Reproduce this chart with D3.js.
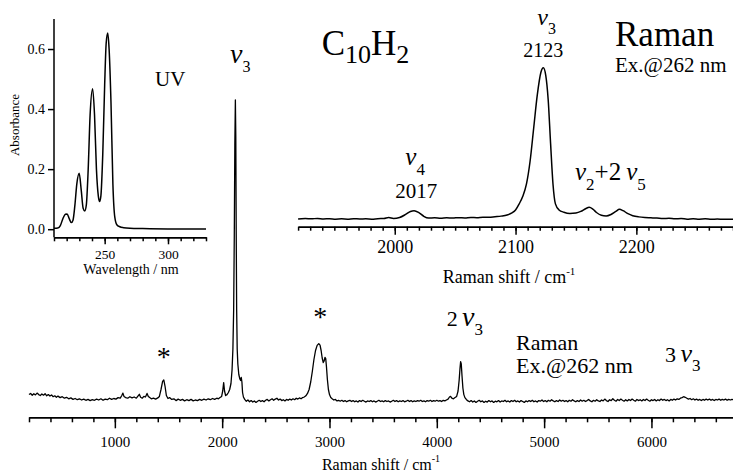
<!DOCTYPE html>
<html>
<head>
<meta charset="utf-8">
<script src="https://cdn.jsdelivr.net/npm/d3@7"></script>
<style>
  html, body { margin: 0; padding: 0; background: #fff; }
  svg { display: block; }
</style>
</head>
<body>
<svg id="chart" width="733" height="473"></svg>
<script>
const FONT = "'Liberation Serif', 'Times New Roman', serif";
const W = 733, H = 473;

// main Raman spectrum, excitation 262 nm : [shift cm-1, intensity (rel. to nu3)]
const mainSpectrum = [
  [200,0.018],[215,0.022],[230,0.016],[245,0.021],[260,0.017],[275,0.023],[290,0.018],[305,0.015],
  [320,0.020],[335,0.016],[350,0.021],[365,0.014],[380,0.018],[395,0.013],[410,0.017],[425,0.011],
  [440,0.014],[455,0.009],[470,0.013],[490,0.008],[510,0.011],[530,0.006],[550,0.009],[570,0.004],
  [590,0.007],[610,0.002],[630,0.005],[650,0.001],[670,0.004],[690,0.000],[710,0.003],[730,-0.001],
  [750,0.002],[770,-0.002],[790,0.001],[810,-0.001],[830,0.003],[850,0.000],[870,0.004],[890,-0.001],
  [910,0.003],[930,0.001],[950,0.006],[970,0.002],[990,0.005],[1010,0.003],[1030,0.008],[1050,0.006],
  [1065,0.015],[1075,0.023],[1085,0.012],[1100,0.008],[1120,0.006],[1140,0.011],[1160,0.007],[1180,0.010],
  [1200,0.006],[1215,0.013],[1228,0.019],[1240,0.009],[1255,0.006],[1270,0.012],[1285,0.010],[1300,0.022],
  [1312,0.012],[1325,0.008],[1340,0.004],[1360,0.006],[1380,0.003],[1400,0.007],[1415,0.012],[1430,0.035],
  [1445,0.062],[1456,0.067],[1468,0.045],[1480,0.015],[1495,0.005],[1510,0.008],[1530,0.002],[1550,0.004],
  [1570,-0.002],[1590,0.003],[1610,-0.001],[1630,0.002],[1650,-0.003],[1670,0.001],[1690,-0.002],[1710,0.002],
  [1730,-0.003],[1750,0.000],[1770,-0.002],[1790,0.002],[1810,-0.001],[1830,0.003],[1850,0.000],[1870,0.004],
  [1890,0.001],[1910,0.005],[1930,0.002],[1950,0.006],[1965,0.004],[1980,0.008],[1995,0.012],[2005,0.030],
  [2014,0.058],[2022,0.030],[2032,0.015],[2045,0.018],[2058,0.025],[2070,0.035],[2082,0.055],[2092,0.10],
  [2100,0.17],[2107,0.30],[2113,0.55],[2118,0.85],[2123,1.00],[2127,0.88],[2131,0.55],[2135,0.30],
  [2140,0.17],[2146,0.12],[2155,0.085],[2165,0.07],[2172,0.065],[2178,0.075],[2184,0.06],[2190,0.025],
  [2198,0.010],[2210,0.002],[2225,-0.004],[2240,0.000],[2255,-0.006],[2270,-0.002],[2285,-0.007],[2300,-0.003],
  [2315,-0.008],[2330,-0.004],[2345,-0.001],[2360,-0.005],[2375,-0.002],[2390,-0.006],[2405,-0.001],[2420,0.002],
  [2435,-0.003],[2450,0.001],[2465,0.004],[2480,-0.001],[2495,0.003],[2510,0.006],[2525,0.000],[2540,0.003],
  [2555,-0.002],[2570,0.001],[2585,-0.003],[2600,0.002],[2615,-0.001],[2630,0.003],[2645,0.000],[2660,0.004],
  [2675,0.001],[2690,0.006],[2705,0.003],[2720,0.007],[2735,0.004],[2750,0.008],[2765,0.010],[2780,0.014],
  [2795,0.022],[2810,0.035],[2825,0.060],[2840,0.095],[2855,0.135],[2870,0.165],[2885,0.182],[2900,0.188],
  [2912,0.183],[2922,0.165],[2932,0.140],[2942,0.125],[2950,0.130],[2958,0.142],[2965,0.138],[2972,0.110],
  [2980,0.070],[2990,0.035],[3000,0.018],[3012,0.008],[3025,0.004],[3040,0.000],[3055,0.002],[3070,-0.003],
  [3085,-0.001],[3100,-0.004],[3115,-0.001],[3130,-0.005],[3145,-0.002],[3160,-0.006],[3175,-0.003],[3190,-0.001],
  [3205,-0.005],[3220,-0.002],[3235,-0.006],[3250,-0.003],[3265,-0.007],[3280,-0.002],[3295,-0.005],[3310,-0.001],
  [3325,-0.004],[3340,-0.007],[3355,-0.003],[3370,-0.005],[3385,-0.002],[3400,-0.006],[3415,-0.003],[3430,-0.007],
  [3445,-0.004],[3460,-0.001],[3475,-0.005],[3490,-0.003],[3505,-0.006],[3520,-0.002],[3535,-0.005],[3550,-0.003],
  [3565,-0.007],[3580,-0.004],[3595,-0.001],[3610,-0.005],[3625,-0.002],[3640,-0.006],[3655,-0.003],[3670,-0.005],
  [3685,-0.002],[3700,-0.006],[3715,-0.004],[3730,-0.001],[3745,-0.005],[3760,-0.002],[3775,-0.006],[3790,-0.003],
  [3805,-0.005],[3820,-0.002],[3835,-0.004],[3850,-0.001],[3865,-0.005],[3880,-0.003],[3895,-0.006],[3910,-0.002],
  [3925,-0.004],[3940,-0.001],[3955,-0.005],[3970,-0.002],[3985,-0.004],[4000,-0.001],[4015,-0.004],[4030,-0.002],
  [4045,-0.005],[4060,-0.001],[4075,-0.003],[4090,0.000],[4105,0.003],[4118,0.010],[4128,0.012],[4140,0.006],
  [4155,0.004],[4170,0.008],[4185,0.012],[4198,0.030],[4208,0.065],[4216,0.105],[4222,0.128],[4228,0.120],
  [4235,0.080],[4243,0.040],[4252,0.018],[4262,0.008],[4275,0.002],[4290,-0.003],[4305,-0.006],[4320,-0.002],
  [4335,-0.007],[4350,-0.003],[4365,-0.008],[4380,-0.004],[4395,-0.001],[4410,-0.006],[4425,-0.003],[4440,-0.008],
  [4455,-0.004],[4470,-0.007],[4485,-0.002],[4500,-0.006],[4515,-0.003],[4530,-0.008],[4545,-0.004],[4560,-0.006],
  [4575,-0.002],[4590,-0.007],[4605,-0.003],[4620,-0.005],[4635,-0.001],[4650,-0.006],[4665,-0.003],[4680,-0.007],
  [4695,-0.002],[4710,-0.005],[4725,-0.001],[4740,-0.006],[4755,-0.003],[4770,-0.007],[4785,-0.002],[4800,-0.005],
  [4815,-0.008],[4830,-0.003],[4845,-0.006],[4860,-0.002],[4875,-0.005],[4890,-0.001],[4905,-0.006],[4920,-0.003],
  [4935,-0.007],[4950,-0.002],[4965,-0.004],[4980,0.000],[4995,-0.005],[5010,-0.002],[5025,-0.006],[5040,-0.001],
  [5055,-0.004],[5070,0.001],[5085,-0.003],[5100,-0.006],[5115,-0.002],[5130,-0.005],[5145,0.000],[5160,-0.004],
  [5175,-0.001],[5190,-0.005],[5205,-0.002],[5220,-0.006],[5235,-0.001],[5250,-0.004],[5265,0.001],[5280,-0.003],
  [5295,-0.006],[5310,-0.002],[5325,-0.005],[5340,0.000],[5355,-0.004],[5370,-0.001],[5385,-0.005],[5400,-0.002],
  [5415,0.002],[5430,-0.003],[5445,-0.006],[5460,-0.001],[5475,-0.004],[5490,0.001],[5505,-0.003],[5520,-0.005],
  [5535,0.000],[5550,-0.003],[5565,0.003],[5580,-0.002],[5595,-0.005],[5610,0.001],[5625,-0.002],[5640,0.004],
  [5655,-0.001],[5670,-0.004],[5685,0.002],[5700,-0.002],[5715,0.003],[5730,-0.001],[5745,-0.004],[5760,0.001],
  [5775,-0.003],[5790,0.002],[5805,-0.002],[5820,0.003],[5835,-0.001],[5850,-0.004],[5865,0.002],[5880,-0.002],
  [5895,0.001],[5910,-0.003],[5925,0.002],[5940,-0.002],[5955,0.003],[5970,-0.001],[5985,-0.004],[6000,0.001],
  [6015,-0.002],[6030,0.002],[6045,-0.003],[6060,0.001],[6075,-0.002],[6090,0.003],[6105,-0.001],[6120,0.002],
  [6135,-0.002],[6150,0.001],[6165,-0.003],[6180,0.002],[6195,-0.001],[6210,0.003],[6225,0.000],[6240,0.004],
  [6255,0.002],[6270,0.006],[6285,0.008],[6300,0.011],[6315,0.009],[6330,0.006],[6345,0.003],[6360,0.005],
  [6375,0.001],[6390,0.004],[6405,0.000],[6420,0.003],[6435,-0.001],[6450,0.002],[6465,-0.002],[6480,0.002],
  [6495,-0.001],[6510,0.003],[6525,0.000],[6540,0.003],[6555,-0.001],[6570,0.002],[6585,-0.002],[6600,0.002],
  [6615,0.000],[6630,0.003],[6645,-0.001],[6660,0.002],[6675,0.000],[6690,0.003],[6705,-0.001],[6720,0.002],
  [6735,0.000],[6750,0.002],[6760,0.001]
];

// zoomed Raman region around nu3 : [shift cm-1, intensity]
const insetSpectrum = [
  [1920,0.000],[1926,0.003],[1931,0.001],[1936,0.004],[1941,0.000],[1946,0.002],[1951,-0.001],[1956,0.001],
  [1961,-0.001],[1966,0.002],[1971,0.000],[1976,0.001],[1981,-0.001],[1986,0.002],[1991,0.003],[1995,0.010],
  [1999,0.004],[2004,0.010],[2009,0.030],[2013,0.050],[2016,0.055],[2020,0.042],[2024,0.018],[2028,0.006],
  [2033,0.008],[2038,0.005],[2043,0.008],[2048,0.006],[2053,0.009],[2058,0.007],[2063,0.010],[2068,0.009],
  [2073,0.012],[2078,0.011],[2083,0.015],[2088,0.019],[2093,0.026],[2097,0.040],[2100,0.060],[2103,0.100],
  [2106,0.150],[2109,0.230],[2112,0.380],[2115,0.600],[2118,0.820],[2121,0.970],[2123,1.000],[2125,0.950],
  [2127,0.790],[2129,0.500],[2131,0.230],[2133,0.100],[2136,0.060],[2140,0.045],[2145,0.037],[2150,0.040],
  [2154,0.050],[2158,0.068],[2161,0.077],[2164,0.065],[2167,0.043],[2171,0.025],[2175,0.020],[2179,0.030],
  [2183,0.050],[2186,0.064],[2189,0.055],[2193,0.035],[2197,0.022],[2202,0.014],[2207,0.010],[2212,0.008],
  [2217,0.006],[2222,0.003],[2227,0.005],[2232,0.001],[2237,0.003],[2242,-0.001],[2247,0.002],[2252,-0.001],
  [2257,0.001],[2262,-0.002],[2267,0.000],[2272,-0.002],[2277,-0.001],[2280,-0.002]
];

// UV absorption : [wavelength nm, absorbance]
const uvSpectrum = [
  [210,0.003],[213,0.004],[215,0.012],[217,0.035],[219,0.050],[220.3,0.051],[222,0.035],[223.7,0.022],
  [225,0.030],[226.5,0.080],[228,0.150],[229.9,0.186],[231.5,0.130],[233,0.070],[234.3,0.061],[235.5,0.080],
  [237,0.200],[238.5,0.380],[240.5,0.468],[242,0.380],[243.5,0.200],[245,0.110],[246,0.092],[247,0.110],
  [248.5,0.250],[250,0.480],[251.2,0.620],[252.4,0.653],[253.5,0.600],[255,0.420],[256.5,0.150],[258,0.040],
  [259.6,0.015],[262,0.008],[265,0.005],[270,0.003],[280,0.002],[300,0.001],[330,0.001]
];

const mainTicks  = [1000, 2000, 3000, 4000, 5000, 6000];
const insetTicks = [2000, 2100, 2200];
const uvXTicks   = [250, 300];
const uvYTicks   = [0.0, 0.2, 0.4, 0.6];

const svg = d3.select("#chart");
svg.append("rect").attr("width", W).attr("height", H).attr("fill", "#fff");

// scales
const xMain  = d3.scaleLinear().domain([200, 6760]).range([29, 733]);
const yMain  = d3.scaleLinear().domain([0, 1]).range([400, 100]);
const xInset = d3.scaleLinear().domain([1920, 2280]).range([298.1, 733]);
const yInset = d3.scaleLinear().domain([0, 1]).range([219, 67.7]);
const xUV    = d3.scaleLinear().domain([210, 330]).range([54, 206]);
const yUV    = d3.scaleLinear().domain([-0.027, 0.7]).range([237.3, 19]);

function styleAxis(g, size) {
  g.attr("font-family", FONT).attr("font-size", size);
  g.selectAll("path, line").attr("stroke", "#000").attr("stroke-width", 1.5);
  g.selectAll("text").attr("fill", "#000");
}

// bottom axis with labelled majors and unlabelled minors
function drawXAxis(scale, y, majors, minors, bigTick, smallTick, pad, size) {
  svg.append("g")
    .attr("transform", "translate(0," + y + ")")
    .call(d3.axisBottom(scale).tickValues(minors).tickSize(smallTick).tickSizeOuter(0).tickFormat(""))
    .call(g => styleAxis(g, size));
  svg.append("g")
    .attr("transform", "translate(0," + y + ")")
    .call(d3.axisBottom(scale).tickValues(majors).tickSize(bigTick).tickSizeOuter(0)
      .tickPadding(pad).tickFormat(d3.format("d")))
    .call(g => styleAxis(g, size));
}

// text with sub/superscripts: parts = [text, size, baseline offset, italic]
function label(x, y, parts, anchor) {
  const t = svg.append("text")
    .attr("x", x).attr("y", y)
    .attr("font-family", FONT)
    .attr("text-anchor", anchor || "start")
    .attr("fill", "#000");
  let prev = 0;
  parts.forEach(p => {
    t.append("tspan")
      .attr("font-size", p[1])
      .attr("dy", (p[2] || 0) - prev)
      .attr("font-style", p[3] ? "italic" : "normal")
      .text(p[0]);
    prev = p[2] || 0;
  });
  return t;
}

// ---- main spectrum
drawXAxis(xMain, 417.3, mainTicks, d3.range(200, 6761, 200), 11, 5, 8, 15);

svg.append("path")
  .datum(mainSpectrum)
  .attr("fill", "none")
  .attr("stroke", "#000")
  .attr("stroke-width", 1.3)
  .attr("stroke-linejoin", "round")
  .attr("d", d3.line().x(d => xMain(d[0])).y(d => yMain(d[1])));

label(381, 470, [["Raman shift / cm", 16], ["-1", 10, -8]], "middle");

// ---- UV inset
drawXAxis(xUV, 237.3, uvXTicks, d3.range(210, 331, 10), 7, 4, 5, 13.5);

const uvY = svg.append("g")
  .attr("transform", "translate(54,0)")
  .call(d3.axisLeft(yUV).tickValues(uvYTicks).tickSize(6).tickSizeOuter(0).tickPadding(3)
    .tickFormat(d3.format(".1f")))
  .call(g => styleAxis(g, 14));
// y axis line runs full height of the inset
uvY.select(".domain").attr("d", "M0," + yUV.range()[0] + "V" + yUV.range()[1]);

svg.append("path")
  .datum(uvSpectrum)
  .attr("fill", "none")
  .attr("stroke", "#000")
  .attr("stroke-width", 1.5)
  .attr("d", d3.line().curve(d3.curveMonotoneX).x(d => xUV(d[0])).y(d => yUV(d[1])));

label(131, 274, [["Wavelength / nm", 14]], "middle");
label(0, 0, [["Absorbance", 13]], "middle")
  .attr("transform", "translate(19,125) rotate(-90)");
label(155, 86, [["UV", 21]]);

// ---- Raman inset
drawXAxis(xInset, 226.7, insetTicks, d3.range(1920, 2281, 10), 8, 4, 6, 18);

svg.append("path")
  .datum(insetSpectrum)
  .attr("fill", "none")
  .attr("stroke", "#000")
  .attr("stroke-width", 1.5)
  .attr("d", d3.line().curve(d3.curveMonotoneX).x(d => xInset(d[0])).y(d => yInset(d[1])));

label(509, 283, [["Raman shift / cm", 18], ["-1", 11, -8]], "middle");

// ---- annotations
label(321.7, 55, [["C", 35], ["10", 26, 8], ["H", 35, 0], ["2", 26, 8]]);
label(615, 46, [["Raman", 35]]);
label(615, 72, [["Ex.@262 nm", 21]]);

label(xInset(2123) - 6, 25, [["ν", 24, 0, true], ["3", 16, 9]]);
label(xInset(2123), 57, [["2123", 20]], "middle");
label(xInset(2017) - 10, 165, [["ν", 25, 0, true], ["4", 17, 10]]);
label(xInset(2017) + 1, 198, [["2017", 21]], "middle");
label(575, 180, [["ν", 25, 0, true], ["2", 17, 10], ["+2\u2009", 25, 0], ["ν", 25, 0, true], ["5", 17, 10]]);

label(230, 63, [["ν", 28, 0, true], ["3", 16, 9]]);
label(xMain(1456), 366, [["*", 28]], "middle");
label(xMain(2915), 326, [["*", 28]], "middle");
label(446.7, 326, [["2\u2009", 22], ["ν", 28, 0, true], ["3", 17, 9]]);
label(516, 350, [["Raman", 22]]);
label(516, 373, [["Ex.@262 nm", 22]]);
label(665, 362, [["3\u2009", 22], ["ν", 26, 0, true], ["3", 17, 9]]);
</script>
</body>
</html>
